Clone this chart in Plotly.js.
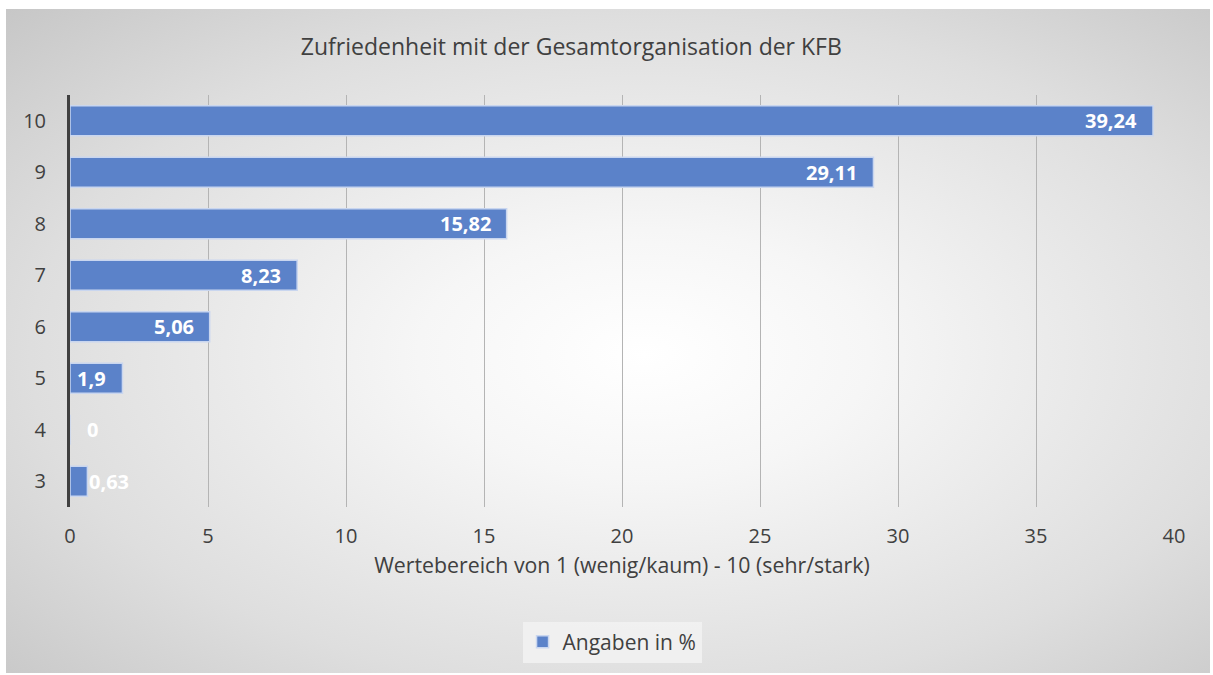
<!DOCTYPE html>
<html>
<head>
<meta charset="utf-8">
<script src="https://cdn.plot.ly/plotly-3.0.1.min.js"></script>
<style>
  html, body { margin:0; padding:0; background:#ffffff; }
  #bg { position:absolute; left:6px; top:9px; width:1204px; height:664px;
        background: radial-gradient(ellipse 75% 75% at 53% 52%, #ffffff 0%, #f6f6f6 25%, #dedede 68%, #c6c6c6 100%); }
  #chart { position:absolute; left:0; top:0; width:1213px; height:675px; }
</style>
</head>
<body>
<div id="bg"></div>
<div id="chart"></div>
<script>
const categories = ["3", "4", "5", "6", "7", "8", "9", "10"];
const values = [0.63, 0, 1.9, 5.06, 8.23, 15.82, 29.11, 39.24];
const seriesName = "Angaben in %";
const xTicks = [0, 5, 10, 15, 20, 25, 30, 35, 40];

const FONT = '"Open Sans", "Noto Sans", sans-serif';
const labels = values.map(v => String(v).replace('.', ','));

const trace = {
  type: 'bar',
  orientation: 'h',
  y: categories,
  x: values,
  name: seriesName,
  textposition: 'none',
  marker: { color: '#5b82c9', line: { color: '#c9d6ef', width: 1.5 } },
  hoverinfo: 'x+y'
};

// data labels: inside end for bars wide enough, otherwise just right of the bar
// (y given as the category index on the category axis)
const annotations = values.map((v, i) => {
  const inside = v >= 1;
  return {
    x: v, y: i, xref: 'x', yref: 'y',
    text: '<b>' + labels[i] + '</b>',
    showarrow: false,
    xanchor: inside ? 'right' : 'left',
    yanchor: 'middle',
    xshift: inside ? -14 : (v === 0 ? 15 : 0),
    font: { family: FONT, size: 20, color: '#ffffff' }
  };
});

const layout = {
  width: 1213, height: 675,
  paper_bgcolor: 'rgba(0,0,0,0)',
  plot_bgcolor: 'rgba(0,0,0,0)',
  margin: { l: 70, r: 39, t: 95, b: 168 },
  font: { family: FONT, color: '#404040', size: 20 },
  title: { text: 'Zufriedenheit mit der Gesamtorganisation der KFB', x: 0.471, xanchor: 'center', y: 0.93, yanchor: 'middle',
           font: { size: 23, color: '#404040' } },
  bargap: 0.42,
  xaxis: {
    range: [0, 40], tickvals: xTicks, ticktext: xTicks.map(String),
    showgrid: true, gridcolor: '#b4b4b4', gridwidth: 1,
    zeroline: false, showline: false,
    ticks: 'outside', ticklen: 11, tickcolor: 'rgba(0,0,0,0)',
    tickfont: { size: 20, color: '#404040' },
    title: { text: 'Wertebereich von 1 (wenig/kaum) - 10 (sehr/stark)', standoff: 10, font: { size: 21.3, color: '#404040' } },
    fixedrange: true
  },
  yaxis: {
    type: 'category', categoryorder: 'array', categoryarray: categories,
    range: [-0.5, 7.5],
    showgrid: false, zeroline: false,
    showline: true, linecolor: '#404040', linewidth: 3,
    ticks: 'outside', ticklen: 17, tickcolor: 'rgba(0,0,0,0)',
    tickfont: { size: 20, color: '#404040' },
    fixedrange: true
  },
  annotations: annotations,
  showlegend: true,
  legend: {
    orientation: 'h', x: 0.491, xanchor: 'center', y: -0.328, yanchor: 'middle',
    bgcolor: 'rgba(242,242,242,0.85)', borderwidth: 0,
    font: { size: 21, color: '#404040' },
    itemwidth: 30
  }
};

Plotly.newPlot('chart', [trace], layout, { displayModeBar: false, staticPlot: true });
</script>
</body>
</html>
